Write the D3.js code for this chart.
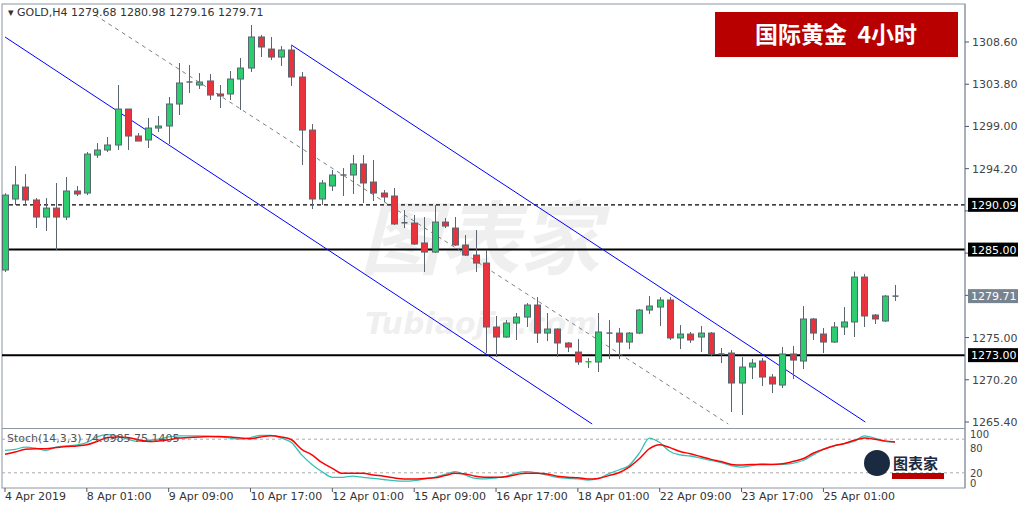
<!DOCTYPE html>
<html><head><meta charset="utf-8">
<script src="https://cdn.jsdelivr.net/npm/d3@7"></script>
<style>body{margin:0;background:#fff}svg{display:block;font-family:Tahoma,"DejaVu Sans",sans-serif}</style>
</head><body><svg id="c" width="1024" height="512"></svg>
<script>
// OHLC per 4h candle
const opens  = [1282.68,1290.75,1292.11,1290.64,1288.70,1289.72,1288.70,1291.66,1291.43,1295.75,
1296.32,1296.89,1300.98,1297.91,1297.46,1298.82,1299.05,1301.55,1303.94,1303.71,
1304.17,1302.69,1302.69,1304.39,1305.64,1309.17,1307.80,1306.89,1307.69,1304.62,
1298.59,1290.75,1292.23,1293.40,1293.48,1294.73,1292.68,1291.43,1291.09,1288.02,
1288.02,1285.75,1284.72,1288.13,1287.45,1285.52,1284.38,1283.47,1276.20,1275.06,
1276.65,1277.33,1278.70,1275.51,1275.97,1274.38,1273.35,1272.22,1272.22,1275.51,
1275.51,1274.49,1275.51,1278.13,1278.47,1279.27,1274.95,1275.40,1275.06,1275.51,
1273.13,1273.24,1269.83,1271.65,1272.33,1270.51,1269.60,1273.13,1272.33,1277.11,
1275.40,1274.49,1276.20,1276.77,1281.88,1277.56,1276.88,1279.68];
const highs  = [1291.40,1294.50,1293.59,1290.86,1290.86,1292.57,1293.25,1292.23,1296.09,1297.11,
1297.80,1303.71,1300.98,1298.25,1299.96,1300.18,1302.35,1306.21,1305.98,1305.07,
1304.96,1303.71,1305.30,1306.78,1310.53,1309.40,1309.17,1308.14,1308.26,1305.19,
1299.27,1292.91,1294.05,1294.27,1295.75,1295.75,1295.18,1291.77,1292.00,1289.50,
1288.93,1288.70,1290.07,1288.59,1288.70,1286.65,1287.22,1284.95,1277.45,1276.99,
1277.79,1278.92,1279.60,1277.79,1276.05,1274.49,1274.83,1272.67,1277.79,1276.99,
1276.08,1275.63,1278.24,1279.72,1279.60,1279.60,1276.42,1275.63,1276.31,1275.63,
1273.81,1273.58,1272.79,1272.56,1272.67,1270.85,1273.92,1274.04,1278.58,1277.22,
1276.08,1276.77,1278.47,1282.50,1282.22,1277.67,1279.83,1280.98];
const lows   = [1282.45,1290.07,1290.07,1287.45,1287.11,1284.95,1288.36,1291.09,1291.20,1295.41,
1296.09,1296.32,1296.32,1297.34,1296.55,1298.37,1297.00,1300.30,1302.80,1303.26,
1302.00,1301.10,1302.00,1300.87,1305.19,1306.89,1306.55,1305.87,1303.60,1294.62,
1289.61,1290.07,1291.66,1291.09,1291.32,1290.29,1290.52,1290.41,1287.79,1287.45,
1285.52,1282.45,1284.61,1287.45,1285.41,1284.27,1282.45,1273.24,1272.79,1274.95,
1274.72,1276.20,1274.38,1274.60,1272.79,1273.35,1271.88,1271.54,1271.08,1272.56,
1272.56,1273.69,1275.40,1277.67,1276.31,1274.72,1273.69,1274.38,1273.35,1272.90,
1272.10,1266.53,1266.19,1270.28,1269.49,1268.69,1269.26,1270.28,1271.42,1274.72,
1273.24,1274.38,1275.29,1275.06,1276.20,1276.54,1276.77,1279.16];
const closes = [1291.20,1292.34,1290.64,1288.70,1289.72,1288.70,1291.66,1291.32,1295.86,1296.32,
1296.89,1300.98,1297.91,1297.34,1298.82,1299.05,1301.55,1303.94,1304.05,1304.05,
1302.57,1302.46,1304.39,1305.64,1309.17,1308.03,1306.89,1307.69,1304.62,1298.59,
1290.75,1292.57,1293.48,1293.48,1294.73,1292.57,1291.43,1290.98,1287.91,1288.05,
1285.63,1284.72,1288.13,1287.68,1285.52,1284.38,1283.47,1276.20,1275.06,1276.65,
1277.33,1278.70,1275.51,1275.97,1274.38,1273.92,1272.22,1272.25,1275.63,1275.51,
1274.49,1275.51,1278.13,1278.58,1279.27,1274.95,1275.40,1274.72,1275.51,1273.13,
1273.10,1269.83,1271.65,1272.10,1270.51,1269.72,1273.13,1272.44,1277.11,1275.51,
1274.49,1276.20,1276.77,1281.88,1277.45,1277.11,1279.72,1279.71];
const stochK = [60,62,66,64,60,66,68,70,74,84, 88,86,80,76,78,80,84,86,86,86,
85,84,82,80,83,87,87,82,74,52, 35,22,12,12,14,12,10,8,6,5,
6,9,12,17,22,16,10,9,11,14, 20,22,20,16,12,10,9,7,10,18,
25,33,55,82,74,58,52,50,46,42, 38,33,30,33,36,35,35,37,42,52,
62,68,72,76,86,82,76,74.70];
const stochD = [53,57,62,63,63,65,67,68,70,76, 83,84,83,79,76,77,79,82,83,84,
85,85,84,82,81,84,86,84,79,62, 52,38,28,19,19,19,16,14,11,9,
9,10,11,15,19,18,14,12,12,13, 17,19,19,18,14,12,11,9,10,15,
20,30,45,63,70,65,58,54,49,44, 40,35,34,35,35,35,36,40,45,55,
62,68,72,78,82,80,77,75.14];
const timeTicks = [0,8,16,24,32,40,48,56,64,72,80];
const timeLabels = ["4 Apr 2019","8 Apr 01:00","9 Apr 09:00","10 Apr 17:00","12 Apr 01:00","15 Apr 09:00","16 Apr 17:00","18 Apr 01:00","22 Apr 09:00","23 Apr 17:00","25 Apr 01:00"];
const priceTicks = [1308.6,1303.8,1299.0,1294.2,1289.4,1284.6,1279.8,1275.0,1270.2,1265.4];
const levels = [1290.09,1285.00,1273.00];
const lastPrice = 1279.71;
const channelLower = [[0,1309.17],[57.4,1265.17]];
const channelUpper = [[28,1308.26],[84.1,1265.4]];
const channelMid = [[8.8,1311.67],[70.7,1265.17]];

const svg = d3.select("#c");
const L=2, R=965, T=4, B=427, ST=430, SB=488;
const x = d3.scaleLinear().domain([0,87]).range([5,895]);
const y = d3.scaleLinear().domain([1265.4,1308.6]).range([422,42]);
const ys = d3.scaleLinear().domain([0,100]).range([484,428]);

svg.append("rect").attr("x",L).attr("y",T).attr("width",R-L).attr("height",SB-T).attr("fill","none").attr("stroke","#8a96a2");
svg.append("line").attr("x1",L).attr("x2",R).attr("y1",B+1.5).attr("y2",B+1.5).attr("stroke","#8a96a2");
svg.append("defs").append("clipPath").attr("id","cp").append("rect").attr("x",L).attr("y",T).attr("width",R-L).attr("height",B-T);
svg.append("defs").append("clipPath").attr("id","cs").append("rect").attr("x",L).attr("y",ST).attr("width",R-L).attr("height",SB-ST);
const g = svg.append("g").attr("clip-path","url(#cp)");

g.append("text").attr("x",360).attr("y",268).attr("font-size",80).attr("font-weight","bold").attr("font-style","italic")
 .attr("fill","#000").attr("opacity",0.06).attr("font-family","Noto Sans CJK SC").text("图表家");
g.append("text").attr("x",365).attr("y",334).attr("font-size",30).attr("font-weight","bold").attr("font-style","italic")
 .attr("fill","#000").attr("opacity",0.06).text("Tubiaojia.com");

levels.forEach((v,i)=>{
  g.append("line").attr("x1",L).attr("x2",R).attr("y1",y(v)).attr("y2",y(v))
   .attr("stroke","#000").attr("stroke-width",i==0?1.2:2).attr("stroke-dasharray",i==0?"4,3":null);
});
const line = d3.line().x(d=>x(d[0])).y(d=>y(d[1]));
g.append("path").attr("d",line(channelLower)).attr("stroke","#0000ff").attr("fill","none");
g.append("path").attr("d",line(channelUpper)).attr("stroke","#0000ff").attr("fill","none");
g.append("path").attr("d",line(channelMid)).attr("stroke","#808080").attr("stroke-dasharray","4,4").attr("fill","none");

d3.range(opens.length).forEach(i=>{
  const o=opens[i],c=closes[i],h=highs[i],l=lows[i],cx=Math.round(x(i))+0.5;
  g.append("line").attr("x1",cx).attr("x2",cx).attr("y1",y(h)).attr("y2",y(l)).attr("stroke","#5b6570");
  const top=y(Math.max(o,c)), bot=y(Math.min(o,c));
  if (bot-top<1.5){
    g.append("line").attr("x1",cx-3).attr("x2",cx+3).attr("y1",top).attr("y2",top).attr("stroke",i==57?"#00dd00":"#5b6570").attr("stroke-width",1.5);
  } else {
    g.append("rect").attr("x",cx-3).attr("y",top).attr("width",6).attr("height",bot-top)
     .attr("fill",c>=o?"#2ecc71":"#e8323c").attr("stroke","#5b6570");
  }
});

svg.append("text").attr("x",8).attr("y",16).attr("font-size",11).attr("fill","#333")
 .text("▾ GOLD,H4  1279.68 1280.98 1279.16 1279.71");
svg.append("rect").attr("x",715).attr("y",12).attr("width",243).attr("height",45).attr("fill","#b80000");
svg.append("text").attr("x",836).attr("y",43).attr("text-anchor","middle").attr("font-size",23).attr("font-weight","bold")
 .attr("fill","#fff").attr("font-family","Noto Sans CJK SC").attr("xml:space","preserve").text("国际黄金  4小时");

svg.append("line").attr("x1",R).attr("x2",R).attr("y1",T).attr("y2",SB).attr("stroke","#8a96a2");
const boxed = levels.concat([lastPrice]);
priceTicks.forEach(p=>{
  svg.append("line").attr("x1",R).attr("x2",R+4).attr("y1",y(p)).attr("y2",y(p)).attr("stroke","#556");
  if (boxed.some(b=>Math.abs(y(b)-y(p))<15)) return;
  svg.append("text").attr("x",972).attr("y",y(p)+4).attr("font-size",11).attr("fill","#444").text(p.toFixed(2));
});
levels.forEach(v=>{
  svg.append("rect").attr("x",968).attr("y",y(v)-7).attr("width",50).attr("height",14).attr("fill","#000");
  svg.append("text").attr("x",971).attr("y",y(v)+4).attr("font-size",11).attr("fill","#fff").text(v.toFixed(2));
});
svg.append("rect").attr("x",968).attr("y",y(lastPrice)-7).attr("width",50).attr("height",14).attr("fill","#778490");
svg.append("text").attr("x",971).attr("y",y(lastPrice)+4).attr("font-size",11).attr("fill","#fff").text(lastPrice.toFixed(2));

const sg = svg.append("g").attr("clip-path","url(#cs)");
[80,20].forEach(v=>sg.append("line").attr("x1",L).attr("x2",R).attr("y1",ys(v)).attr("y2",ys(v)).attr("stroke","#aaa").attr("stroke-dasharray","3,3"));
const sl = d3.line().x((d,i)=>x(i)).y(d=>ys(d)).curve(d3.curveMonotoneX);
sg.append("path").attr("d",sl(stochK)).attr("stroke","#35c0b8").attr("fill","none").attr("stroke-width",1.3);
sg.append("path").attr("d",sl(stochD)).attr("stroke","#ff0000").attr("fill","none").attr("stroke-width",1.5);
svg.append("text").attr("x",7).attr("y",442).attr("font-size",11).attr("fill","#555").text("Stoch(14,3,3) 74.6985 75.1405");
[[100,10],[80,13],[20,4],[0,3]].forEach(([v,dy])=>{
  svg.append("text").attr("x",970).attr("y",ys(v)+dy).attr("font-size",10).attr("fill","#444").text(v);
});
svg.append("circle").attr("cx",877).attr("cy",463).attr("r",13).attr("fill","#1a2a40");
svg.append("text").attr("x",893).attr("y",469).attr("font-size",15).attr("font-weight","bold").attr("fill","#1a2a40").attr("font-family","Noto Sans CJK SC").text("图表家");
svg.append("rect").attr("x",892).attr("y",473).attr("width",52).attr("height",6).attr("fill","#b80000");

timeTicks.forEach((t,i)=>{
  svg.append("line").attr("x1",x(t)).attr("x2",x(t)).attr("y1",SB).attr("y2",SB+4).attr("stroke","#556");
  svg.append("text").attr("x",x(t)).attr("y",SB+12).attr("font-size",11).attr("fill","#333").text(timeLabels[i]);
});
</script></body></html>
